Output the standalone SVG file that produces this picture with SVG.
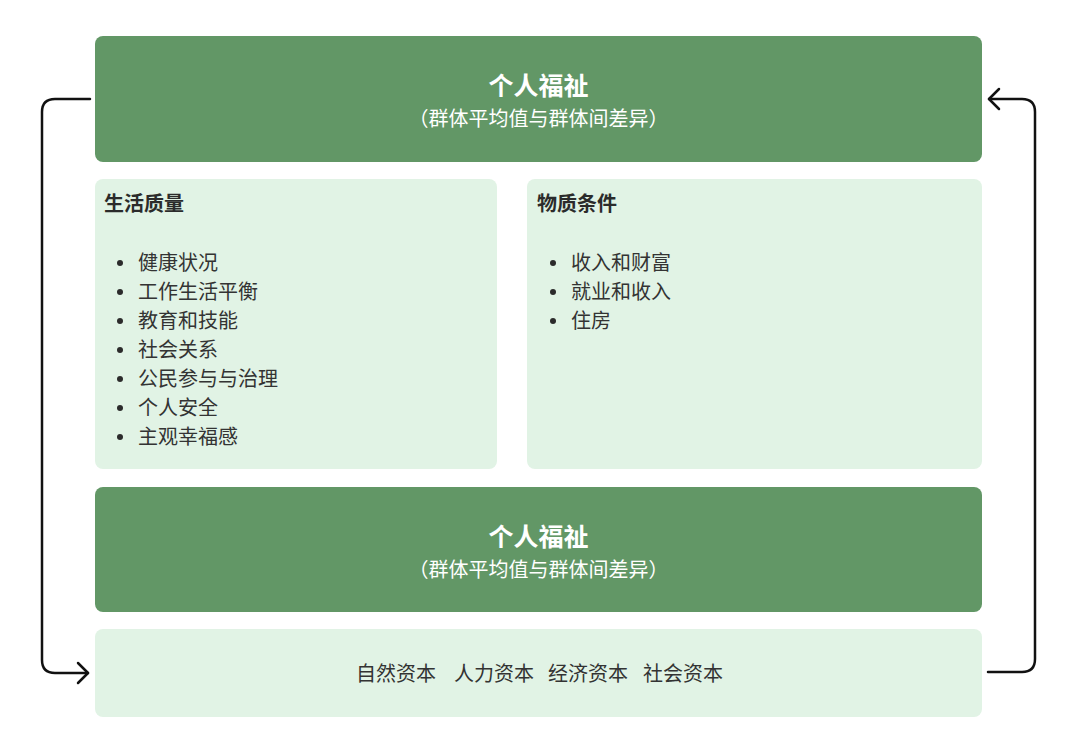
<svg xmlns="http://www.w3.org/2000/svg" width="1080" height="747" viewBox="0 0 1080 747">
<defs>
<style>
.dark{fill:#629766}
.light{fill:#e1f3e5}
.t{font-family:"Noto Sans CJK SC","Noto Sans",sans-serif}
.title{font-size:25px;font-weight:700;fill:#ffffff;text-anchor:middle}
.sub{font-size:20px;fill:#ffffff;text-anchor:middle}
.head{font-size:20px;font-weight:700;fill:#2b2b2b}
.item{font-size:20px;fill:#333333}
.cap{font-size:20px;fill:#333333}
.dot{fill:#2b2b2b}
.conn{fill:none;stroke:#111111;stroke-width:2.5;stroke-linecap:round;stroke-linejoin:round}
</style>
<marker id="arr" markerUnits="userSpaceOnUse" markerWidth="16" markerHeight="24" refX="12" refY="12" orient="auto">
<path d="M2,2 L12,12 L2,22" fill="none" stroke="#111111" stroke-width="2.5" stroke-linecap="round" stroke-linejoin="round"/>
</marker>
</defs>
<rect width="1080" height="747" fill="#ffffff"/>
<g id="connectors">
<path class="conn" d="M90,99 H55 Q42,99 42,112 V660 Q42,673 55,673 H88" marker-end="url(#arr)"/>
<path class="conn" d="M988,672 H1022 Q1035,672 1035,659 V112 Q1035,99 1022,99 H989" marker-end="url(#arr)"/>
</g>
<g id="top-wellbeing">
<rect class="dark" x="95" y="36" width="887" height="126" rx="8"/>
<text class="t title" x="538.5" y="95">个人福祉</text>
<text class="t sub" x="538.5" y="126">（群体平均值与群体间差异）</text>
</g>
<g id="quality-of-life">
<rect class="light" x="95" y="179" width="402" height="290" rx="8"/>
<text class="t head" x="104" y="211">生活质量</text>
<g class="dot">
<circle cx="120" cy="263" r="3"/>
<circle cx="120" cy="292" r="3"/>
<circle cx="120" cy="321" r="3"/>
<circle cx="120" cy="350" r="3"/>
<circle cx="120" cy="379" r="3"/>
<circle cx="120" cy="408" r="3"/>
<circle cx="120" cy="437" r="3"/>
</g>
<text class="t item" x="138" y="270">健康状况</text>
<text class="t item" x="138" y="299">工作生活平衡</text>
<text class="t item" x="138" y="328">教育和技能</text>
<text class="t item" x="138" y="357">社会关系</text>
<text class="t item" x="138" y="386">公民参与与治理</text>
<text class="t item" x="138" y="415">个人安全</text>
<text class="t item" x="138" y="444">主观幸福感</text>
</g>
<g id="material-conditions">
<rect class="light" x="527" y="179" width="455" height="290" rx="8"/>
<text class="t head" x="537" y="211">物质条件</text>
<g class="dot">
<circle cx="553" cy="263" r="3"/>
<circle cx="553" cy="292" r="3"/>
<circle cx="553" cy="321" r="3"/>
</g>
<text class="t item" x="571" y="270">收入和财富</text>
<text class="t item" x="571" y="299">就业和收入</text>
<text class="t item" x="571" y="328">住房</text>
</g>
<g id="bottom-wellbeing">
<rect class="dark" x="95" y="487" width="887" height="125" rx="8"/>
<text class="t title" x="538.5" y="546">个人福祉</text>
<text class="t sub" x="538.5" y="577">（群体平均值与群体间差异）</text>
</g>
<g id="capitals">
<rect class="light" x="95" y="629" width="887" height="88" rx="8"/>
<text class="t cap" x="356" y="681">自然资本</text>
<text class="t cap" x="454" y="681">人力资本</text>
<text class="t cap" x="548" y="681">经济资本</text>
<text class="t cap" x="643" y="681">社会资本</text>
</g>
</svg>
